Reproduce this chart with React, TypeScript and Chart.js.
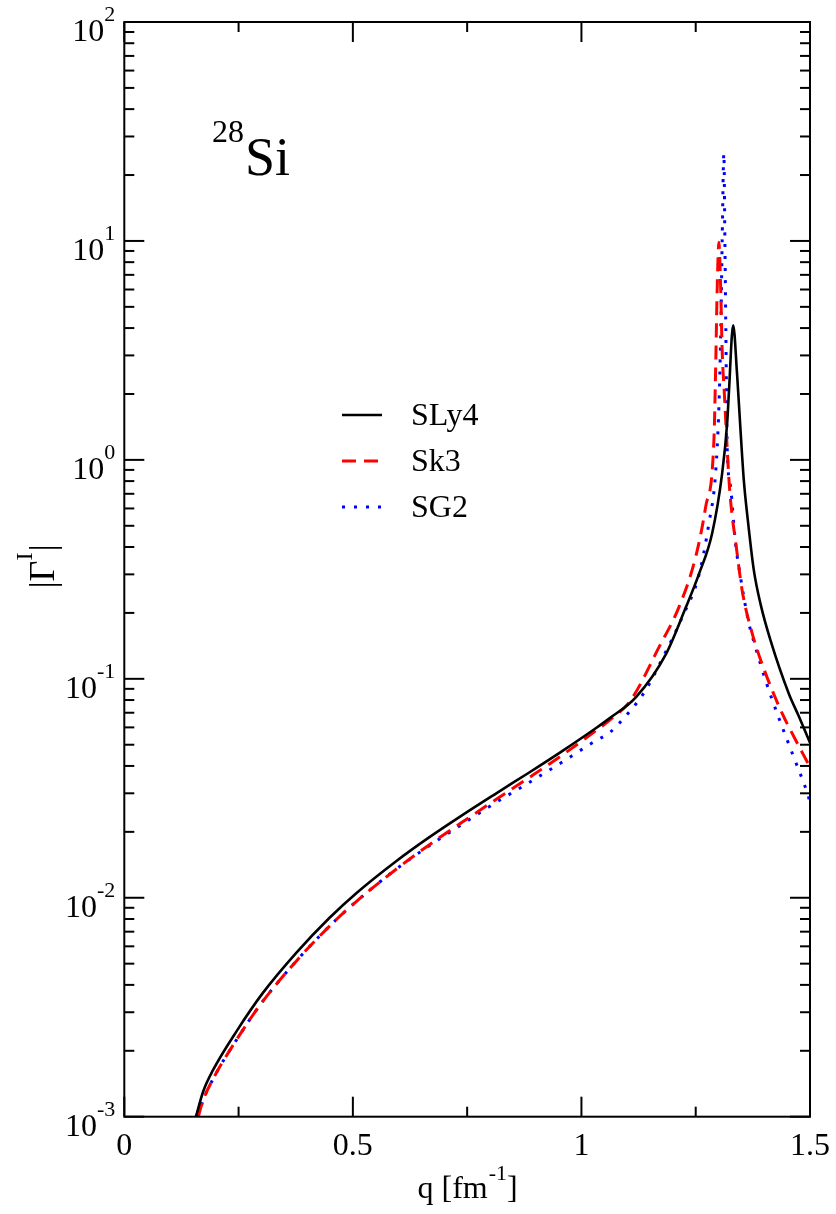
import React, { useEffect, useRef } from "react";
import { Chart, registerables } from "chart.js";

Chart.register(...registerables);

// ---- Data ----
const seriesNames = ["SLy4", "Sk3", "SG2"];

const qSLy4 = [0.1566, 0.1729, 0.1937, 0.2461, 0.3028, 0.3771, 0.4491, 0.5081, 0.5954, 0.6675, 0.7395, 0.8138, 0.8858, 0.9579, 1.0321, 1.0605, 1.1194, 1.1849, 1.2286, 1.2570, 1.2860, 1.3079, 1.3188, 1.3225, 1.3319, 1.3406, 1.3480, 1.3552, 1.3640, 1.3771, 1.3924, 1.4135, 1.4535, 1.4753, 1.5000];
const gSLy4 = [0.001000, 0.001310, 0.001627, 0.002467, 0.003667, 0.005632, 0.008103, 0.010517, 0.014723, 0.018912, 0.023850, 0.030004, 0.037344, 0.046767, 0.059607, 0.065810, 0.082488, 0.12967, 0.21262, 0.30072, 0.46259, 0.86964, 1.4716, 2.0165, 4.1218, 2.4366, 1.3667, 0.8078, 0.5305, 0.31356, 0.21712, 0.15019, 0.085685, 0.067560, 0.051071];

const qSk3 = [0.1616, 0.1718, 0.1937, 0.2461, 0.3028, 0.3771, 0.4491, 0.5081, 0.5954, 0.6675, 0.7395, 0.8138, 0.8858, 0.9579, 1.0321, 1.0605, 1.1079, 1.1697, 1.2133, 1.2498, 1.2716, 1.2898, 1.2934, 1.2969, 1.3007, 1.3044, 1.3079, 1.3129, 1.3188, 1.3240, 1.3301, 1.3371, 1.3515, 1.3734, 1.4026, 1.4389, 1.4607, 1.5000];
const gSk3 = [0.001000, 0.001179, 0.001481, 0.002256, 0.003361, 0.005161, 0.007425, 0.009638, 0.013537, 0.017478, 0.022162, 0.028170, 0.035420, 0.044834, 0.058063, 0.064431, 0.079918, 0.13951, 0.21262, 0.35945, 0.60814, 1.2303, 2.4883, 5.9566, 9.864, 6.3096, 3.1457, 1.9661, 1.1309, 0.74256, 0.54765, 0.42560, 0.25410, 0.16171, 0.10617, 0.069726, 0.056506, 0.039518];

const qSG2 = [0.1616, 0.1718, 0.1937, 0.2461, 0.3028, 0.3771, 0.4491, 0.5081, 0.5954, 0.6675, 0.7395, 0.8138, 0.8858, 0.9579, 1.0321, 1.0605, 1.1042, 1.1406, 1.1697, 1.2205, 1.2570, 1.2788, 1.2934, 1.3007, 1.3044, 1.3079, 1.3116, 1.3138, 1.3159, 1.3188, 1.3262, 1.3371, 1.3480, 1.3662, 1.3808, 1.4026, 1.4279, 1.4644, 1.4934, 1.5000];
const gSG2 = [0.001000, 0.001179, 0.001481, 0.002256, 0.003361, 0.005161, 0.007425, 0.009638, 0.013537, 0.017294, 0.021697, 0.027295, 0.033609, 0.041650, 0.052303, 0.056506, 0.070451, 0.088781, 0.11550, 0.19131, 0.29751, 0.51232, 0.86686, 1.7458, 3.5203, 10.074, 25.15, 10.074, 3.9094, 1.1466, 0.75271, 0.41650, 0.29135, 0.17961, 0.13951, 0.098650, 0.069726, 0.043907, 0.030380, 0.027353];

const xTickValues = [0, 0.5, 1, 1.5];
const xTickLabels = ["0", "0.5", "1", "1.5"];
const xMinorTicks = [0.25, 0.75, 1.25];
const yExponents = [-3, -2, -1, 0, 1, 2];
const yExponentLabels = ["-3", "-2", "-1", "0", "1", "2"];
const yMinorMultipliers = [2, 3, 4, 5, 6, 7, 8, 9];

const xTitleParts = ["q [fm", "-1", "]"];
const yTitleParts = ["|\u0393", "I", "|"];
const nucleusMass = "28";
const nucleusSymbol = "Si";

const FONT = '"Liberation Serif", "Times New Roman", Times, serif';

const decorPlugin = {
  id: "decor",
  afterDraw(chart: any) {
    const { ctx, chartArea: a, scales } = chart;
    const xs = scales.x;
    const ys = scales.y;
    ctx.save();
    ctx.strokeStyle = "#000";
    ctx.fillStyle = "#000";
    ctx.lineWidth = 2;
    ctx.lineCap = "butt";
    ctx.setLineDash([]);
    const seg = (x1: number, y1: number, x2: number, y2: number) => {
      ctx.beginPath();
      ctx.moveTo(x1, y1);
      ctx.lineTo(x2, y2);
      ctx.stroke();
    };
    // frame
    ctx.strokeRect(a.left, a.top, a.right - a.left, a.bottom - a.top);
    // x ticks (bottom & top, inward)
    xTickValues.forEach((v) => {
      const px = xs.getPixelForValue(v);
      seg(px, a.bottom, px, a.bottom - 20);
      seg(px, a.top, px, a.top + 20);
    });
    xMinorTicks.forEach((v) => {
      const px = xs.getPixelForValue(v);
      seg(px, a.bottom, px, a.bottom - 10);
      seg(px, a.top, px, a.top + 10);
    });
    // y ticks (left & right, inward)
    yExponents.forEach((k, i) => {
      const py = ys.getPixelForValue(Math.pow(10, k));
      seg(a.left, py, a.left + 20, py);
      seg(a.right, py, a.right - 20, py);
      if (i < yExponents.length - 1) {
        yMinorMultipliers.forEach((m) => {
          const pm = ys.getPixelForValue(m * Math.pow(10, k));
          seg(a.left, pm, a.left + 10, pm);
          seg(a.right, pm, a.right - 10, pm);
        });
      }
    });
    // y tick labels 10^k
    ctx.textAlign = "right";
    ctx.textBaseline = "alphabetic";
    yExponents.forEach((k, i) => {
      const py = ys.getPixelForValue(Math.pow(10, k));
      const rightX = a.left - 9;
      ctx.font = `22px ${FONT}`;
      const ew = ctx.measureText(yExponentLabels[i]).width;
      ctx.fillText(yExponentLabels[i], rightX, py - 1);
      ctx.font = `32px ${FONT}`;
      ctx.fillText("10", rightX - ew, py + 19);
    });
    // x axis title
    ctx.textAlign = "left";
    ctx.font = `32px ${FONT}`;
    const w0 = ctx.measureText(xTitleParts[0]).width;
    const w2 = ctx.measureText(xTitleParts[2]).width;
    ctx.font = `22px ${FONT}`;
    const w1 = ctx.measureText(xTitleParts[1]).width;
    const cx = (a.left + a.right) / 2;
    const sx = cx - (w0 + w1 + w2) / 2;
    const by = 1198;
    ctx.font = `32px ${FONT}`;
    ctx.fillText(xTitleParts[0], sx, by);
    ctx.font = `22px ${FONT}`;
    ctx.fillText(xTitleParts[1], sx + w0 + 1, by - 18);
    ctx.font = `32px ${FONT}`;
    ctx.fillText(xTitleParts[2], sx + w0 + w1 + 1, by);
    // y axis title (rotated)
    ctx.save();
    ctx.translate(54, 567);
    ctx.rotate(-Math.PI / 2);
    ctx.font = `36px ${FONT}`;
    const t0 = ctx.measureText(yTitleParts[0]).width;
    const t2 = ctx.measureText(yTitleParts[2]).width;
    ctx.font = `24px ${FONT}`;
    const t1 = ctx.measureText(yTitleParts[1]).width;
    const tx = -(t0 + t1 + t2) / 2;
    ctx.font = `36px ${FONT}`;
    ctx.fillText(yTitleParts[0], tx, 0);
    ctx.font = `24px ${FONT}`;
    ctx.fillText(yTitleParts[1], tx + t0, -22);
    ctx.font = `36px ${FONT}`;
    ctx.fillText(yTitleParts[2], tx + t0 + t1 + 1, 0);
    ctx.restore();
    // nucleus annotation
    ctx.font = `32px ${FONT}`;
    ctx.textAlign = "right";
    ctx.fillText(nucleusMass, 244, 142);
    ctx.font = `54px ${FONT}`;
    ctx.textAlign = "left";
    ctx.fillText(nucleusSymbol, 245, 175);
    // legend
    const rows = [415, 461, 507];
    chart.data.datasets.forEach((ds: any, i: number) => {
      const ry = rows[i];
      ctx.save();
      ctx.strokeStyle = ds.borderColor;
      ctx.lineWidth = ds.borderWidth;
      ctx.setLineDash(ds.borderDash || []);
      ctx.beginPath();
      ctx.moveTo(342, ry);
      ctx.lineTo(382, ry);
      ctx.stroke();
      ctx.restore();
      ctx.font = `32px ${FONT}`;
      ctx.textAlign = "left";
      ctx.fillStyle = "#000";
      ctx.fillText(seriesNames[i], 411, ry + 10);
    });
    ctx.restore();
  },
};

function toPoints(qs: number[], gs: number[]) {
  return qs.map((q, i) => ({ x: q, y: gs[i] }));
}

export default function App() {
  const ref = useRef<HTMLCanvasElement | null>(null);
  useEffect(() => {
    if (!ref.current) return;
    const chart = new Chart(ref.current, {
      type: "line",
      data: {
        datasets: [
          {
            label: seriesNames[0],
            data: toPoints(qSLy4, gSLy4),
            borderColor: "#000000",
            borderWidth: 2.6,
            pointRadius: 0,
            cubicInterpolationMode: "monotone",
            fill: false,
          },
          {
            label: seriesNames[1],
            data: toPoints(qSk3, gSk3),
            borderColor: "#ff0000",
            borderWidth: 3,
            borderDash: [14, 8],
            pointRadius: 0,
            cubicInterpolationMode: "monotone",
            fill: false,
          },
          {
            label: seriesNames[2],
            data: toPoints(qSG2, gSG2),
            borderColor: "#0000ff",
            borderWidth: 3,
            borderDash: [3, 9],
            pointRadius: 0,
            cubicInterpolationMode: "monotone",
            fill: false,
          },
        ],
      },
      options: {
        responsive: false,
        animation: false,
        devicePixelRatio: 1,
        layout: { padding: { left: 0, right: 24.3, top: 22, bottom: 0 } },
        plugins: { legend: { display: false }, tooltip: { enabled: false } },
        scales: {
          x: {
            type: "linear",
            min: 0,
            max: 1.5,
            grid: { display: false },
            border: { display: false },
            ticks: {
              stepSize: 0.5,
              autoSkip: false,
              maxRotation: 0,
              padding: 6,
              color: "#000",
              font: { family: FONT, size: 32, lineHeight: 1 },
              callback: (v: any) => {
                const idx = xTickValues.findIndex((t) => Math.abs(t - Number(v)) < 1e-9);
                return idx >= 0 ? xTickLabels[idx] : "";
              },
            },
            afterFit: (s: any) => {
              s.height = 97.3;
            },
          },
          y: {
            type: "logarithmic",
            min: 1e-3,
            max: 100,
            grid: { display: false },
            border: { display: false },
            ticks: { display: false },
            afterFit: (s: any) => {
              s.width = 124.3;
            },
          },
        },
      } as any,
      plugins: [decorPlugin],
    });
    return () => chart.destroy();
  }, []);
  return (
    <div style={{ position: "absolute", left: 0, top: 0, width: 836, height: 1214, background: "#fff" }}>
      <canvas ref={ref} width={836} height={1214} style={{ display: "block" }} />
    </div>
  );
}
